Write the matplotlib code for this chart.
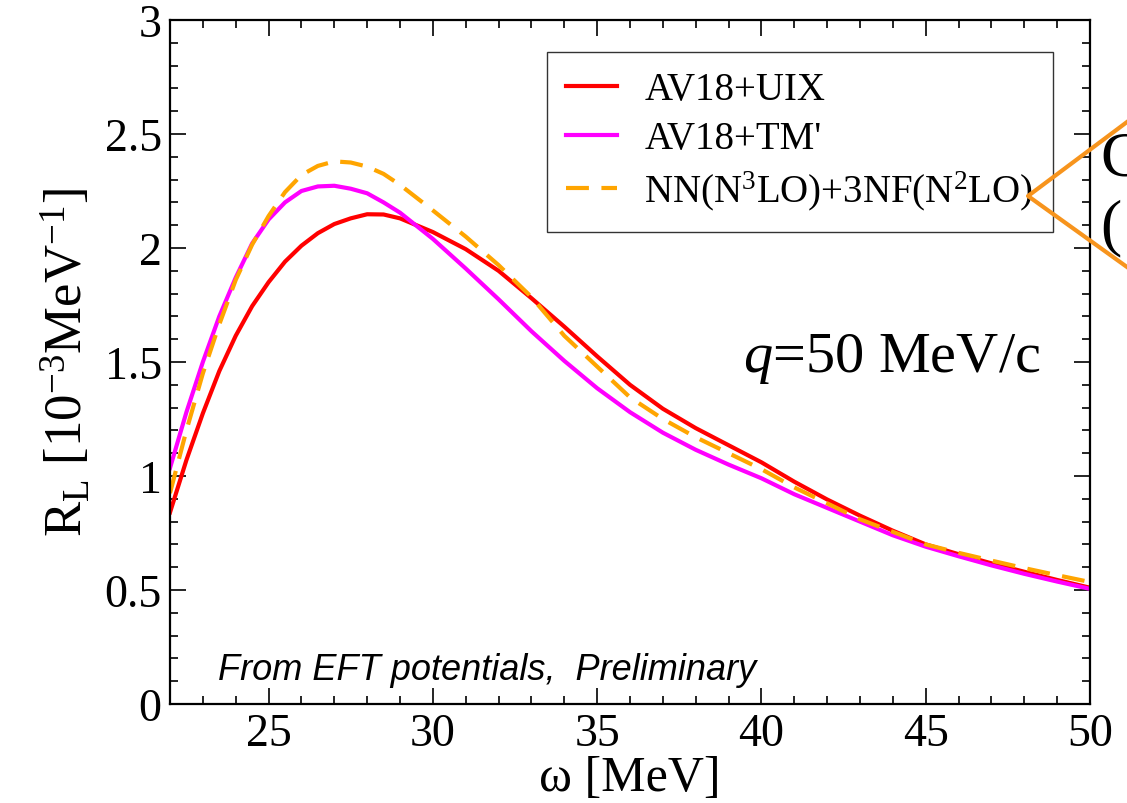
import matplotlib
matplotlib.use('Agg')
import matplotlib.pyplot as plt
from matplotlib.lines import Line2D
from matplotlib.ticker import MultipleLocator

# Шрифты: Times-подобный serif
plt.rcParams['font.family'] = ['Liberation Serif', 'DejaVu Serif']
plt.rcParams['mathtext.fontset'] = 'custom'
plt.rcParams['mathtext.rm'] = 'Liberation Serif'
plt.rcParams['mathtext.it'] = 'Liberation Serif:italic'

# Данные
omega = [22, 22.5, 23, 23.5, 24, 24.5, 25, 25.5, 26, 26.5, 27, 27.5, 28, 28.5, 29,
         30, 31, 32, 33, 34, 35, 36, 37, 38, 39, 40,
         41, 42, 43, 44, 45, 46, 47, 48, 49, 50]

r_uix = [0.84, 1.07, 1.275, 1.46, 1.615, 1.745, 1.85, 1.94, 2.01, 2.065, 2.105, 2.13, 2.148, 2.147, 2.13,
         2.07, 1.995, 1.90, 1.78, 1.655, 1.525, 1.40, 1.295, 1.21, 1.135, 1.06,
         0.975, 0.897, 0.826, 0.76, 0.70, 0.657, 0.617, 0.58, 0.544, 0.51]

r_tm = [1.035, 1.28, 1.50, 1.70, 1.87, 2.02, 2.125, 2.20, 2.25, 2.27, 2.273, 2.26, 2.24, 2.20, 2.155,
        2.04, 1.91, 1.775, 1.635, 1.505, 1.385, 1.28, 1.19, 1.115, 1.05, 0.99,
        0.92, 0.86, 0.80, 0.74, 0.69, 0.648, 0.608, 0.571, 0.537, 0.505]

r_eft = [0.925, 1.20, 1.45, 1.665, 1.86, 2.015, 2.14, 2.245, 2.32, 2.36, 2.38, 2.375, 2.357, 2.325, 2.277,
         2.165, 2.05, 1.925, 1.785, 1.615, 1.48, 1.345, 1.25, 1.17, 1.10, 1.03,
         0.95, 0.88, 0.81, 0.755, 0.70, 0.663, 0.629, 0.596, 0.565, 0.535]

labels = ["AV18+UIX", "AV18+TM'", "NN(N$^3$LO)+3NF(N$^2$LO)"]

W, H = 1127, 804
fig = plt.figure(figsize=(W / 100, H / 100), dpi=100)
ax = fig.add_axes([170 / W, 1 - 705 / H, 920 / W, 684 / H])

ax.plot(omega, r_uix, color='#ff0000', lw=3, label=labels[0])
ax.plot(omega, r_tm, color='#ff00ff', lw=3, label=labels[1])
ax.plot(omega, r_eft, color='#ffa500', lw=3, dashes=(5.5, 3), label=labels[2])

ax.set_xlim(22, 50)
ax.set_ylim(0, 3)
ax.xaxis.set_minor_locator(MultipleLocator(1))
ax.yaxis.set_minor_locator(MultipleLocator(0.1))
ax.set_xticks([25, 30, 35, 40, 45, 50])
ax.set_yticks([0, 0.5, 1, 1.5, 2, 2.5, 3])
ax.set_yticklabels(['0', '0.5', '1', '1.5', '2', '2.5', '3'])

ax.tick_params(which='both', direction='in', top=True, right=True, width=1.2, labelsize=33)
ax.tick_params(which='major', length=11.5, pad=6)
ax.tick_params(which='minor', length=6)
for s in ax.spines.values():
    s.set_linewidth(1.6)

ax.set_xlabel('ω [MeV]', fontsize=36, labelpad=0)
ax.set_ylabel('R$_\\mathrm{L}$ [10$^{-3}$MeV$^{-1}$]', fontsize=38, labelpad=8)

leg = ax.legend(loc='upper left', bbox_to_anchor=((547 - 170) / 920, (705 - 53) / 684),
                fontsize=28, frameon=True, fancybox=False, framealpha=1,
                handlelength=1.3, handletextpad=0.7, labelspacing=0.3,
                borderpad=0.5, borderaxespad=0)
leg.get_frame().set_edgecolor('#333333')
leg.get_frame().set_linewidth(1.0)

ax.text(39.44, 1.46, '$q$=50 MeV/c', fontsize=42, ha='left', va='baseline')
ax.text(23.46, 0.11, 'From EFT potentials,  Preliminary', fontsize=26, style='italic',
        family=['Liberation Sans', 'DejaVu Sans'], ha='left', va='baseline')

# Оранжевая выноска справа
fig.add_artist(Line2D([1127 / W, 1028 / W, 1127 / W], [1 - 123 / H, 1 - 197 / H, 1 - 268 / H],
                      color='#f7941d', lw=3, transform=fig.transFigure))
fig.text(1100 / W, 1 - 175 / H, 'C', fontsize=46, ha='left', va='baseline')
fig.text(1100 / W, 1 - 243 / H, '(', fontsize=46, ha='left', va='baseline')

fig.savefig('out.png', dpi=100)
